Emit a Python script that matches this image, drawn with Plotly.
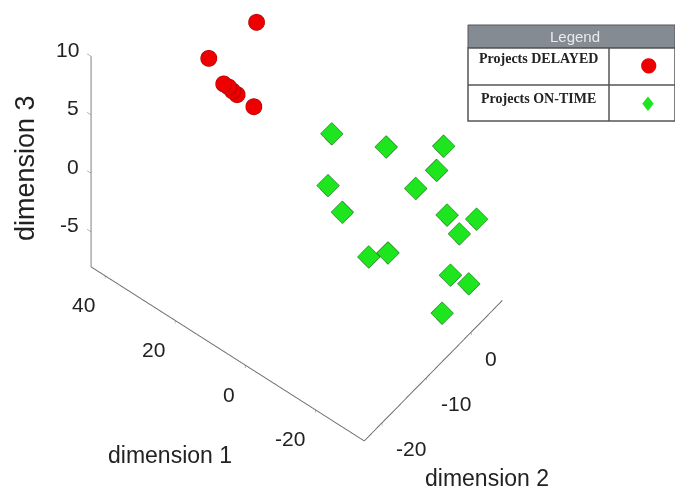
import plotly.graph_objects as go

# Data (dimension 1, dimension 2, dimension 3)
delayed_d1 = [22.1, 27.1, 24.1, 22.7, 21.3, 19.9, 16.9]
delayed_d2 = [-4.1, -10.9, -9.9, -9.9, -10.1, -10.2, -8.8]
delayed_d3 = [9.4, 8.0, 6.0, 6.0, 6.0, 6.0, 5.0]

ontime_d1 = [4.6, -5.2, -19.2, -18.1, 4.4, -13.5, -0.7, -23.6, -29.5, -27.0, -9.0, -11.7, -28.5, -31.2, -29.6]
ontime_d2 = [-1.0, 3.5, 5.4, 4.7, -2.0, 3.6, -2.8, 2.7, 4.7, 2.8, -3.4, -1.2, -0.4, 1.6, -3.1]
ontime_d3 = [2, 1, 3, 1, -2, -1, -3, -1, -1, -2, -5, -5, -4, -5, -6]

d1_ticks = [-20, 0, 20, 40]
d2_ticks = [-20, -10, 0]
d3_ticks = [-5, 0, 5, 10]

D1_RANGE = [-34, 44]
D2_RANGE = [-24, 7]
D3_RANGE = [-8, 10]

TICKFONT = dict(family="Liberation Sans, Arial", size=21, color="#222222")

fig = go.Figure()
fig.add_trace(go.Scatter3d(
    x=delayed_d1, y=delayed_d2, z=delayed_d3, mode="markers", name="Projects DELAYED",
    marker=dict(symbol="circle", size=9.5, color="#ee0000", line=dict(color="#990000", width=1))))
fig.add_trace(go.Scatter3d(
    x=ontime_d1, y=ontime_d2, z=ontime_d3, mode="markers", name="Projects ON-TIME",
    marker=dict(symbol="diamond", size=7.5, color="#1ee61e", line=dict(color="#2a6a2a", width=1))))

axis_common = dict(showbackground=False, showgrid=False, zeroline=False, showline=True,
                   linecolor="#6e6e6e", linewidth=2, ticks="outside", tickcolor="#6e6e6e",
                   ticklen=5, showspikes=False, showticklabels=False, title=dict(text=""))

# tick labels as scene annotations (kept horizontal like the reference)
scene_ann = []
for t in d3_ticks:
    scene_ann.append(dict(x=D1_RANGE[1], y=D2_RANGE[0], z=t, text=str(t), showarrow=False,
                          xanchor="right", yanchor="middle", xshift=-10, yshift=7, font=TICKFONT))
for t in d1_ticks:
    scene_ann.append(dict(x=t, y=D2_RANGE[0], z=D3_RANGE[0], text=str(t), showarrow=False,
                          xanchor="right", yanchor="middle", xshift=-8, yshift=-29, font=TICKFONT))
for t in d2_ticks:
    scene_ann.append(dict(x=D1_RANGE[0], y=t, z=D3_RANGE[0], text=str(t), showarrow=False,
                          xanchor="left", yanchor="middle", xshift=12, yshift=-26, font=TICKFONT))

# camera: view direction, eye placed relative to the look-at centre (orthographic)
view_dir = (0.368, 0.465, -0.805)
dist = 2.0
cen = (-0.784 * 0.1655, 0.621 * 0.1655, -0.466)
eye = tuple(c + d * dist for c, d in zip(cen, view_dir))
zoom = 1.48

fig.update_layout(
    width=675, height=493, showlegend=False,
    paper_bgcolor="white", margin=dict(l=0, r=0, t=0, b=0),
    scene=dict(
        domain=dict(x=[0, 1], y=[0, 1]),
        xaxis=dict(axis_common, range=D1_RANGE, tickvals=d1_ticks),
        yaxis=dict(axis_common, range=D2_RANGE, tickvals=d2_ticks),
        zaxis=dict(axis_common, range=D3_RANGE, tickvals=d3_ticks),
        aspectmode="manual",
        aspectratio=dict(x=0.955 * zoom, y=0.61 * zoom, z=1.0 * zoom * 18 / 18.5),
        camera=dict(projection=dict(type="orthographic"),
                    eye=dict(x=eye[0], y=eye[1], z=eye[2]),
                    up=dict(x=0, y=0, z=1),
                    center=dict(x=cen[0], y=cen[1], z=cen[2])),
        annotations=scene_ann,
    ),
)

fig.add_annotation(x=170/675, y=1-455/493, xref="paper", yref="paper", text="dimension 1",
                   showarrow=False, xanchor="center", yanchor="middle",
                   font=dict(family="Liberation Sans, Arial", size=23, color="#222222"))
fig.add_annotation(x=487/675, y=1-478/493, xref="paper", yref="paper", text="dimension 2",
                   showarrow=False, xanchor="center", yanchor="middle",
                   font=dict(family="Liberation Sans, Arial", size=23, color="#222222"))
fig.add_annotation(x=25/675, y=1-168/493, xref="paper", yref="paper", text="dimension 3", textangle=-90,
                   showarrow=False, xanchor="center", yanchor="middle",
                   font=dict(family="Liberation Sans, Arial", size=27, color="#222222"))

# Legend table drawn as shapes/annotations
LX0, LX1, LXD = 468/675, 1.0, 609/675
fig.add_shape(type="rect", xref="paper", yref="paper", x0=LX0, x1=LX1, y0=1-48/493, y1=1-25/493,
              fillcolor="#848b93", line=dict(color="#555555", width=1))
fig.add_shape(type="rect", xref="paper", yref="paper", x0=LX0, x1=LX1, y0=1-121/493, y1=1-48/493,
              fillcolor="white", line=dict(color="#555555", width=1.5))
fig.add_shape(type="line", xref="paper", yref="paper", x0=LX0, x1=LX1, y0=1-85/493, y1=1-85/493,
              line=dict(color="#555555", width=1.5))
fig.add_shape(type="line", xref="paper", yref="paper", x0=LXD, x1=LXD, y0=1-121/493, y1=1-48/493,
              line=dict(color="#555555", width=1.5))
fig.add_annotation(x=575/675, y=1-36.5/493, xref="paper", yref="paper", text="Legend", showarrow=False,
                   xanchor="center", yanchor="middle",
                   font=dict(family="Liberation Sans, Arial", size=15, color="#e8ebef"))
fig.add_annotation(x=538/675, y=1-58/493, xref="paper", yref="paper", text="<b>Projects DELAYED</b>",
                   showarrow=False, xanchor="center", yanchor="middle",
                   font=dict(family="Liberation Serif, Times New Roman", size=14, color="#222222"))
fig.add_annotation(x=538/675, y=1-98/493, xref="paper", yref="paper", text="<b>Projects ON-TIME</b>",
                   showarrow=False, xanchor="center", yanchor="middle",
                   font=dict(family="Liberation Serif, Times New Roman", size=14, color="#222222"))
fig.add_annotation(x=648/675, y=1-64/493, xref="paper", yref="paper", text="●", showarrow=False,
                   xanchor="center", yanchor="middle",
                   font=dict(family="DejaVu Sans", size=20, color="#ee0000"))
fig.add_annotation(x=648/675, y=1-104/493, xref="paper", yref="paper", text="♦", showarrow=False,
                   xanchor="center", yanchor="middle",
                   font=dict(family="DejaVu Sans", size=20, color="#1ee61e"))

fig.write_html("out.html", config={"displayModeBar": False},
               post_script="document.body.style.margin='0';")
